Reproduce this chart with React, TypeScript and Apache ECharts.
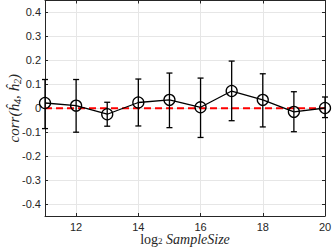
import React, { useEffect, useRef } from "react";
import * as echarts from "echarts";

const sampleSizeLog2 = [11, 12, 13, 14, 15, 16, 17, 18, 19, 20];
const corrMean = [0.022, 0.011, -0.025, 0.024, 0.035, 0.004, 0.072, 0.035, -0.015, 0.001];
const corrLower = [-0.085, -0.1, -0.075, -0.074, -0.081, -0.122, -0.052, -0.078, -0.098, -0.039];
const corrUpper = [0.12, 0.12, 0.025, 0.122, 0.147, 0.126, 0.197, 0.144, 0.069, 0.047];
const refLine = [[11, 0], [20, 0]];

const axisColor = "#262626";
const gridColor = "#e6e6e6";
const mathFont = "Liberation Serif, DejaVu Serif, serif";

export default function App() {
  const ref = useRef<HTMLDivElement>(null);
  useEffect(() => {
    if (!ref.current) return;
    const chart = echarts.init(ref.current, null, { renderer: "svg" });
    const errData = sampleSizeLog2.map((x, i) => [x, corrLower[i], corrUpper[i]]);
    const xCommon = {
      type: "value",
      min: 11,
      max: 20,
      splitNumber: 5,
    };
    const yCommon = {
      type: "value",
      min: -0.45,
      max: 0.45,
      splitNumber: 9,
    };
    chart.setOption({
      animation: false,
      backgroundColor: "#ffffff",
      grid: { left: 45, right: 7, top: 0.5, bottom: 34, containLabel: false, outerBoundsMode: "none" },
      xAxis: [
        {
          ...xCommon,
          position: "bottom",
          axisLine: { show: true, onZero: false, lineStyle: { color: axisColor, width: 1 } },
          axisTick: { show: true, inside: true, length: 3, lineStyle: { color: axisColor } },
          axisLabel: {
            show: true,
            showMinLabel: false,
            color: axisColor,
            fontSize: 11,
            fontFamily: "Liberation Sans, Arial, sans-serif",
            margin: 5,
          },
          splitLine: { show: true, lineStyle: { color: gridColor, width: 1 } },
          name: "{a|log}{b|2}{c| SampleSize}",
          nameLocation: "middle",
          nameGap: 16,
          nameMoveOverlap: false,
          nameTextStyle: {
            rich: {
              a: { fontFamily: mathFont, fontSize: 14, color: axisColor },
              b: { fontFamily: mathFont, fontSize: 9, color: axisColor, padding: [4, 0, 0, 0] },
              c: { fontFamily: mathFont, fontStyle: "italic", fontSize: 14, color: axisColor },
            },
          },
        },
        {
          ...xCommon,
          position: "top",
          axisLine: { show: true, onZero: false, lineStyle: { color: axisColor, width: 1 } },
          axisTick: { show: true, inside: true, length: 3, lineStyle: { color: axisColor } },
          axisLabel: { show: false },
          splitLine: { show: false },
        },
      ],
      yAxis: [
        {
          ...yCommon,
          position: "left",
          axisLine: { show: true, onZero: false, lineStyle: { color: axisColor, width: 1 } },
          axisTick: { show: true, inside: true, length: 3, lineStyle: { color: axisColor } },
          axisLabel: {
            show: true,
            showMinLabel: false,
            showMaxLabel: false,
            color: axisColor,
            fontSize: 11,
            fontFamily: "Liberation Sans, Arial, sans-serif",
            margin: 4,
            formatter: (v: number) => {
              const r = Math.round(v * 10) / 10;
              return r === 0 ? "0" : String(r);
            },
          },
          splitLine: { show: true, lineStyle: { color: gridColor, width: 1 } },
          name: "{a|corr(ĥ}{s|4}{a|, ĥ}{s|2}{a|)}",
          nameLocation: "middle",
          nameGap: 23,
          nameMoveOverlap: false,
          nameRotate: 90,
          nameTextStyle: {
            rich: {
              a: { fontFamily: mathFont, fontStyle: "italic", fontSize: 15, color: axisColor },
              s: { fontFamily: mathFont, fontStyle: "italic", fontSize: 10, color: axisColor, padding: [7, 0, 0, 0] },
            },
          },
        },
        {
          ...yCommon,
          position: "right",
          axisLine: { show: true, onZero: false, lineStyle: { color: axisColor, width: 1 } },
          axisTick: { show: true, inside: true, length: 3, lineStyle: { color: axisColor } },
          axisLabel: { show: false },
          splitLine: { show: false },
        },
      ],
      series: [
        {
          type: "line",
          data: refLine,
          xAxisIndex: 0,
          yAxisIndex: 0,
          symbol: "none",
          lineStyle: { color: "#ff0000", width: 2, type: [7, 4] },
          z: 2,
        },
        {
          type: "custom",
          xAxisIndex: 0,
          yAxisIndex: 0,
          data: errData,
          z: 3,
          renderItem: (params: any, api: any) => {
            const x = api.value(0);
            const lo = api.coord([x, api.value(1)]);
            const hi = api.coord([x, api.value(2)]);
            const cap = 3;
            const style = { stroke: "#000000", lineWidth: 1.3, fill: "none" };
            return {
              type: "group",
              children: [
                { type: "line", shape: { x1: lo[0], y1: lo[1], x2: hi[0], y2: hi[1] }, style },
                { type: "line", shape: { x1: lo[0] - cap, y1: lo[1], x2: lo[0] + cap, y2: lo[1] }, style },
                { type: "line", shape: { x1: hi[0] - cap, y1: hi[1], x2: hi[0] + cap, y2: hi[1] }, style },
              ],
            };
          },
        },
        {
          type: "line",
          xAxisIndex: 0,
          yAxisIndex: 0,
          data: sampleSizeLog2.map((x, i) => [x, corrMean[i]]),
          symbol: "circle",
          symbolSize: 11,
          showSymbol: true,
          lineStyle: { color: "#000000", width: 1.3 },
          itemStyle: { color: "rgba(0,0,0,0)", borderColor: "#000000", borderWidth: 1.3 },
          z: 4,
        },
      ],
    });
    return () => chart.dispose();
  }, []);
  return <div ref={ref} style={{ width: 332, height: 250, position: "absolute", left: 0, top: 0 }} />;
}
